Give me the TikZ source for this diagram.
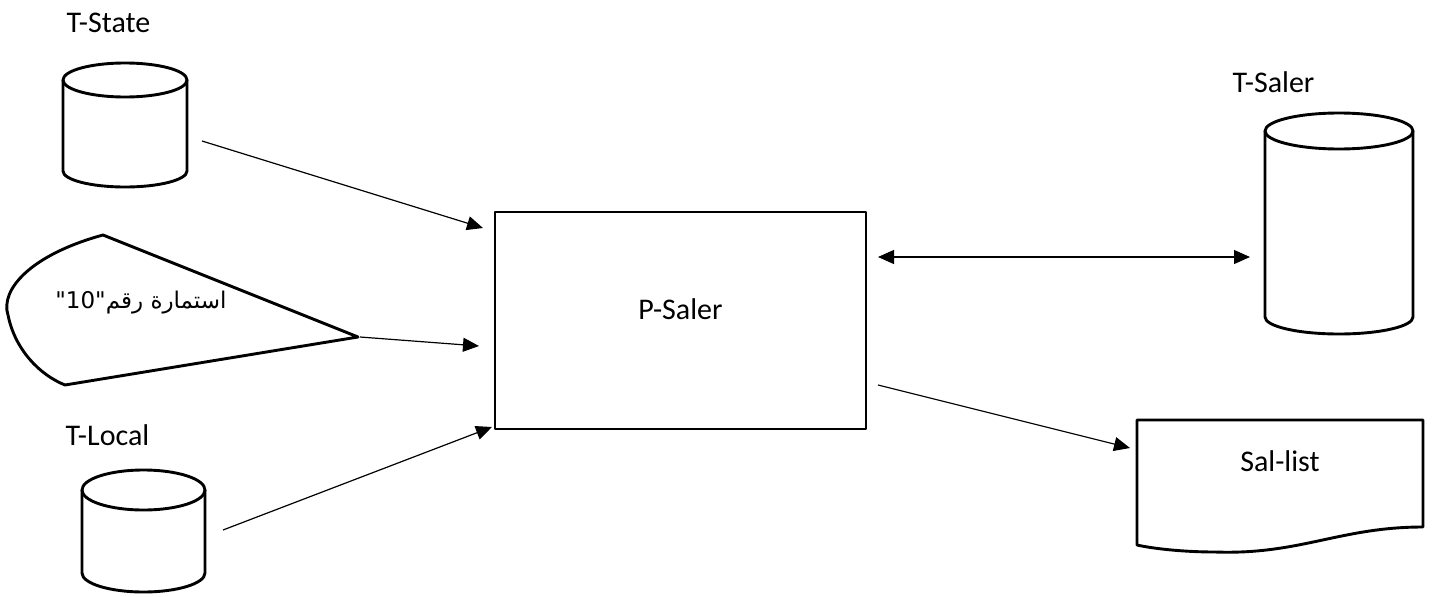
\documentclass[tikz,border=0pt]{standalone}
\usepackage{fontspec}
\setmainfont{Carlito}
\newfontfamily\arabicfont[Script=Arabic]{DejaVu Sans}
\TeXXeTstate=1
\usetikzlibrary{arrows.meta}
\begin{document}
\begin{tikzpicture}[x=1pt,y=-1pt,
  shapeline/.style={line width=2.9pt, line join=round},
  conn/.style={line width=1.2pt, -{Triangle[length=16pt,width=14pt]}},
  bconn/.style={line width=1.2pt, {Triangle[length=16pt,width=14pt]}-{Triangle[length=16pt,width=14pt]}},
  lbl/.style={font=\fontsize{30}{34}\selectfont, anchor=base, inner sep=0pt}]
\useasboundingbox (0,0) rectangle (1436,597);

% T-State cylinder
\draw[shapeline] (125,80) ellipse [x radius=62, y radius=17];
\draw[shapeline] (63,80) -- (63,171) arc[start angle=180, end angle=0, x radius=62, y radius=16] -- (187,80);
\node[lbl] (tstate) at (108.5,32) {T-State};

% T-Local cylinder
\draw[shapeline] (143.5,490) ellipse [x radius=61.5, y radius=20];
\draw[shapeline] (82,490) -- (82,573) arc[start angle=180, end angle=0, x radius=61.5, y radius=19] -- (205,490);
\node[lbl] (tlocal) at (107.5,445) {T-Local};

% T-Saler cylinder
\draw[shapeline] (1339,131) ellipse [x radius=74, y radius=18];
\draw[shapeline] (1265,131) -- (1265,317) arc[start angle=180, end angle=0, x radius=74, y radius=17] -- (1413,131);
\node[lbl] (tsaler) at (1273.5,92) {T-Saler};

% form shape
\draw[shapeline] (103,235) -- (358,337) -- (65,385)
  .. controls (40,375) and (15,350) .. (8,315)
  .. controls (0,290) and (30,255) .. (103,235) -- cycle;
\node[anchor=base, inner sep=0pt, font=\fontsize{23}{27}\selectfont\arabicfont] (form) at (141,308) {\beginR استمارة رقم"\beginL 10\endL"\endR};

% P-Saler process
\node[draw, shapeline, minimum width=371pt, minimum height=217pt, inner sep=0pt] (psaler) at (680.5,320.5) {};
\node[lbl] (psalertext) at (680.5,319) {P-Saler};

% Sal-list document
\draw[shapeline] (1137,420) -- (1423,420) -- (1423,527)
  .. controls (1340,527) and (1300,555) .. (1215,552)
  .. controls (1180,552) and (1150,548) .. (1137,545) -- cycle;
\node[lbl] (sallist) at (1280,471) {Sal-list};

% connector end points
\coordinate (s1) at (202,141);
\coordinate (t1) at (483,228);
\coordinate (s2) at (360,337);
\coordinate (t2) at (479,346);
\coordinate (s3) at (223,530);
\coordinate (t3) at (492,427);
\coordinate (b1) at (878,257);
\coordinate (b2) at (1250,257);
\coordinate (s4) at (878,385);
\coordinate (t4) at (1130,448);

\draw[conn] (s1) -- (t1);
\draw[conn] (s2) -- (t2);
\draw[conn] (s3) -- (t3);
\draw[bconn] (b1) -- (b2);
\draw[conn] (s4) -- (t4);
\end{tikzpicture}
\end{document}
